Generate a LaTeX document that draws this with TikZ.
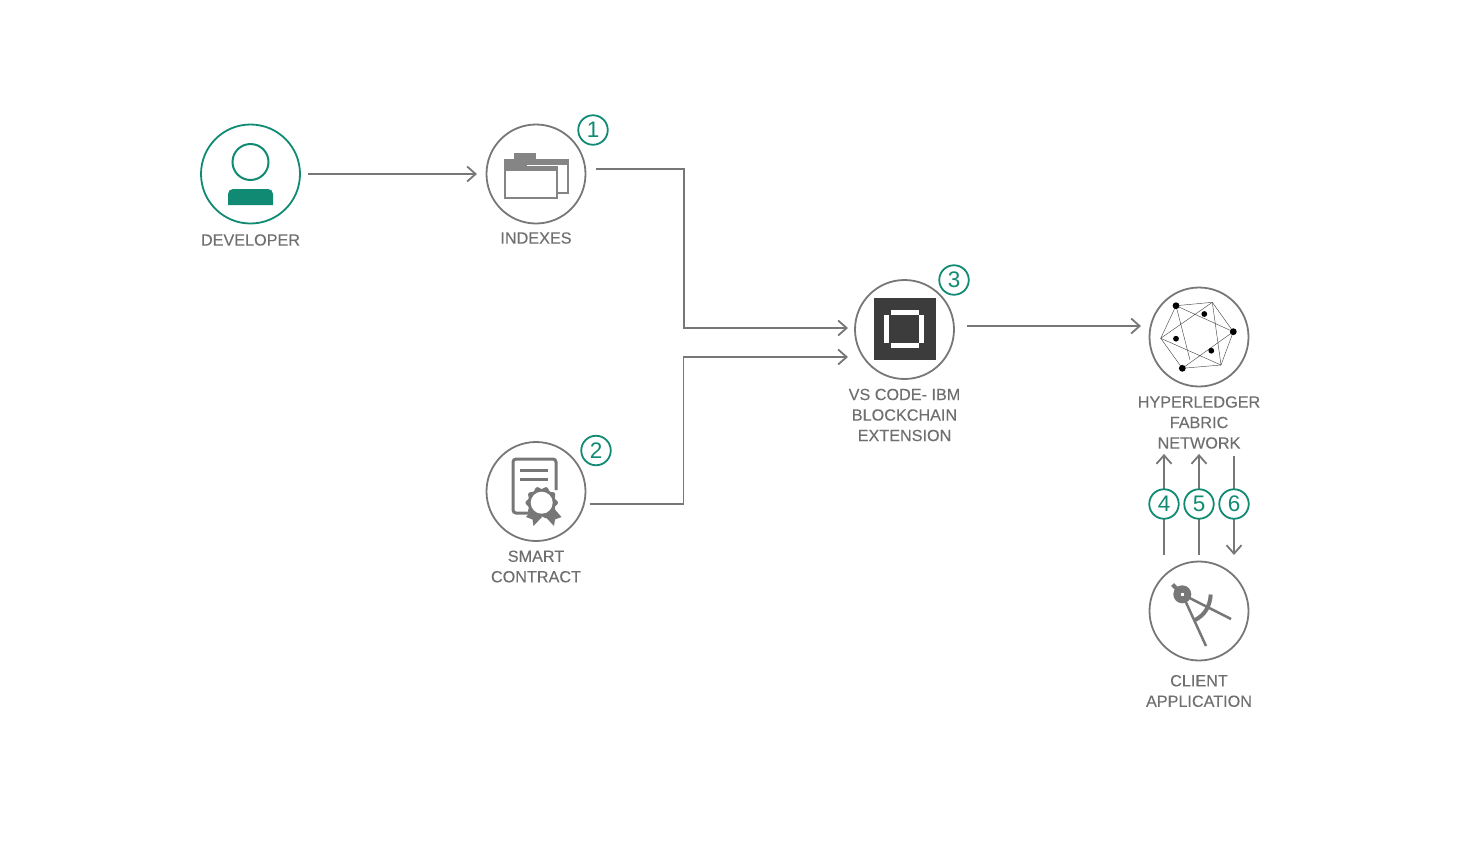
\documentclass[tikz,border=0pt]{standalone}
\usepackage{fontspec}
\setmainfont{Liberation Sans}
\newfontfamily\lblfont[FakeBold=0.2]{Liberation Sans}
\usetikzlibrary{arrows.meta}
\definecolor{ibmgreen}{HTML}{108A72}
\definecolor{ibmgray}{HTML}{777777}
\definecolor{foldergray}{HTML}{858585}
\definecolor{txtgray}{HTML}{6F6F6F}
\definecolor{vscdark}{HTML}{3C3C3C}
\tikzset{
    stage/.style={circle, draw=ibmgray, line width=1.8pt, minimum size=99pt, inner sep=0pt},
    badge/.style={circle, draw=ibmgreen, line width=1.8pt, fill=white, text=ibmgreen, minimum size=29.5pt, inner sep=0pt, font=\fontsize{22.5}{22.5}\selectfont},
    lbl/.style={text=txtgray, align=center, inner sep=0pt, font=\lblfont\fontsize{16.2}{20.5}\selectfont},
    flow/.style={draw=ibmgray, line width=1.8pt, -{Straight Barb[length=8.5pt,width=15pt]}},
    iconline/.style={draw=ibmgray, line width=3pt},
    netline/.style={draw=black!70, line width=0.45pt},
}
\begin{document}
\begin{tikzpicture}[x=1pt, y=-1pt]
    \useasboundingbox (0, 0) rectangle (1459, 855);
    %% Anchors
    \node[stage, draw=ibmgreen] (dev) at (250.5, 174) {};
    \node[stage] (idx) at (536, 174) {};
    \node[stage] (sc) at (536, 491.5) {};
    \node[stage] (vsc) at (904.5, 329.5) {};
    \node[stage] (hlf) at (1199, 337) {};
    \node[stage] (app) at (1199, 611) {};
    %% Text Nodes
    \node[lbl] at (250.5, 240) (devtxt) {DEVELOPER};
    \node[lbl] at (536, 238) (idxtxt) {INDEXES};
    \node[lbl] at (536, 566.5) (sctxt) {SMART\\CONTRACT};
    \node[lbl] at (904.5, 415) (vsctxt) {VS CODE- IBM\\BLOCKCHAIN\\EXTENSION};
    \node[lbl] at (1199, 422.5) (hlftxt) {HYPERLEDGER\\FABRIC\\NETWORK};
    \node[lbl] at (1199, 691) (apptxt) {CLIENT\\APPLICATION};
    %% Connectors
    \coordinate (elbowa) at (684, 250);
    \coordinate (elbowb) at (683.5, 430);
    \draw[flow, shorten <=7.1pt, shorten >=8.6pt] (dev) -- (idx);
    \draw[flow, shorten <=9.6pt, shorten >=6.1pt] ([yshift=5pt]idx.east) -| (elbowa) |- ([yshift=1.5pt]vsc.west);
    \draw[flow, shorten <=3.6pt, shorten >=6.1pt] ([yshift=-12.5pt]sc.east) -| (elbowb) |- ([yshift=-27.5pt]vsc.west);
    \draw[flow, shorten <=12.1pt, shorten >=7.6pt] ([yshift=3.5pt]vsc.east) -- ([yshift=11pt]hlf.west);
    \draw[flow, shorten <=5.6pt, shorten >=5pt] ([xshift=-35pt]app.north) -- ([xshift=-35pt]hlftxt.south);
    \draw[flow, shorten <=5.6pt, shorten >=5pt] (app.north) -- (hlftxt.south);
    \draw[flow, shorten <=7pt, shorten >=5.6pt] ([xshift=35pt]hlftxt.south) -- ([xshift=35pt]app.north);
    %% Badges
    \node[badge] (one) at (593, 130) {1};
    \node[badge] (two) at (596, 450.5) {2};
    \node[badge] (three) at (954, 280) {3};
    \node[badge] (four) at (1164, 504) {4};
    \node[badge] (five) at (1199, 504) {5};
    \node[badge] (six) at (1234, 504) {6};
    %% Developer icon
    \draw[ibmgreen, line width=2pt] (250.5, 162) circle (18pt);
    \fill[ibmgreen] (228, 205) {[rounded corners=5pt] -- (228, 189) -- (273, 189)} -- (273, 205) -- cycle;
    %% Folder icon
    \fill[foldergray] (514, 153) rectangle (536, 160);
    \draw[foldergray, line width=2pt] (527, 160) -- (568, 160) -- (568, 193) -- (557, 193);
    \fill[foldergray] (504, 159) rectangle (569, 164.5);
    \fill[foldergray] (504, 164.5) rectangle (527, 170.5);
    \fill[white] (527, 164.5) rectangle (556, 166);
    \fill[foldergray] (527, 166) rectangle (558, 170.5);
    \draw[foldergray, line width=2pt] (505, 165) -- (505, 198) -- (557, 198) -- (557, 166);
    %% Certificate icon
    \draw[iconline, rounded corners=3pt] (529, 513) -| (513, 459) -| (556, 490);
    \draw[iconline] (520, 470.5) -- (548, 470.5);
    \draw[iconline] (520, 479) -- (548, 479);
    \fill[ibmgray] (526, 517) -- (533, 509) -- (542, 517) -- (533.5, 526) -- (532.5, 519.5) -- cycle;
    \fill[ibmgray] (561.5, 517) -- (554.5, 509) -- (545.5, 517) -- (554, 526) -- (555, 519.5) -- cycle;
    \fill[ibmgray] plot[domain=0:360, samples=121, smooth]
        ({541.7 + (15 + 1.2*cos(10*\x))*cos(\x)}, {502.7 + (15 + 1.2*cos(10*\x))*sin(\x)});
    \fill[white] (541.7, 502.7) circle (11pt);
    %% VS Code icon
    \fill[vscdark] (873.5, 298) rectangle (936, 360);
    \fill[white] (891, 310) rectangle (919.3, 315);
    \fill[white] (891, 343.3) rectangle (919.3, 348.3);
    \fill[white] (884.3, 315) rectangle (889.3, 342.7);
    \fill[white] (919.3, 315) rectangle (924.3, 342.7);
    %% Network icon
    \coordinate (na) at (1176, 305.7);
    \coordinate (nb) at (1212.3, 302.3);
    \coordinate (nc) at (1233.3, 331.7);
    \coordinate (nd) at (1221, 365);
    \coordinate (ne) at (1182.3, 368.3);
    \coordinate (nf) at (1160.7, 338.3);
    \coordinate (ng) at (1204.3, 314);
    \coordinate (nh) at (1176, 338.7);
    \coordinate (ni) at (1211.3, 350.7);
    \coordinate (nj) at (1190, 360);
    \draw[netline] (na) -- (nb) -- (nc) -- (nd) -- (ne) -- (nf) -- cycle;
    \draw[netline] (na) -- (nc) (nf) -- (nb) (nf) -- (nd) (na) -- (nj) (ne) -- (nc) (nb) -- (nd);
    \foreach \p/\r in {na/3.4, nc/3.4, ne/3.4, ng/2.9, nh/2.9, ni/2.9} {
        \fill[black] (\p) circle (\r pt);
    }
    %% Compass icon
    \draw[ibmgray, line width=4pt] (1172.5, 584.5) -- (1182.3, 594.3);
    \draw[ibmgray, line width=2.5pt] (1182.3, 594.3) -- (1206, 646);
    \draw[ibmgray, line width=2.5pt] (1182.3, 594.3) -- (1231, 619);
    \draw[ibmgray, line width=4pt] (1195, 620) .. controls (1205, 615) and (1210, 606) .. (1210.7, 594.5);
    \fill[ibmgray] (1182.3, 594.3) circle (9pt);
    \fill[white] (1181, 593) rectangle (1183.6, 595.6);
\end{tikzpicture}
\end{document}
